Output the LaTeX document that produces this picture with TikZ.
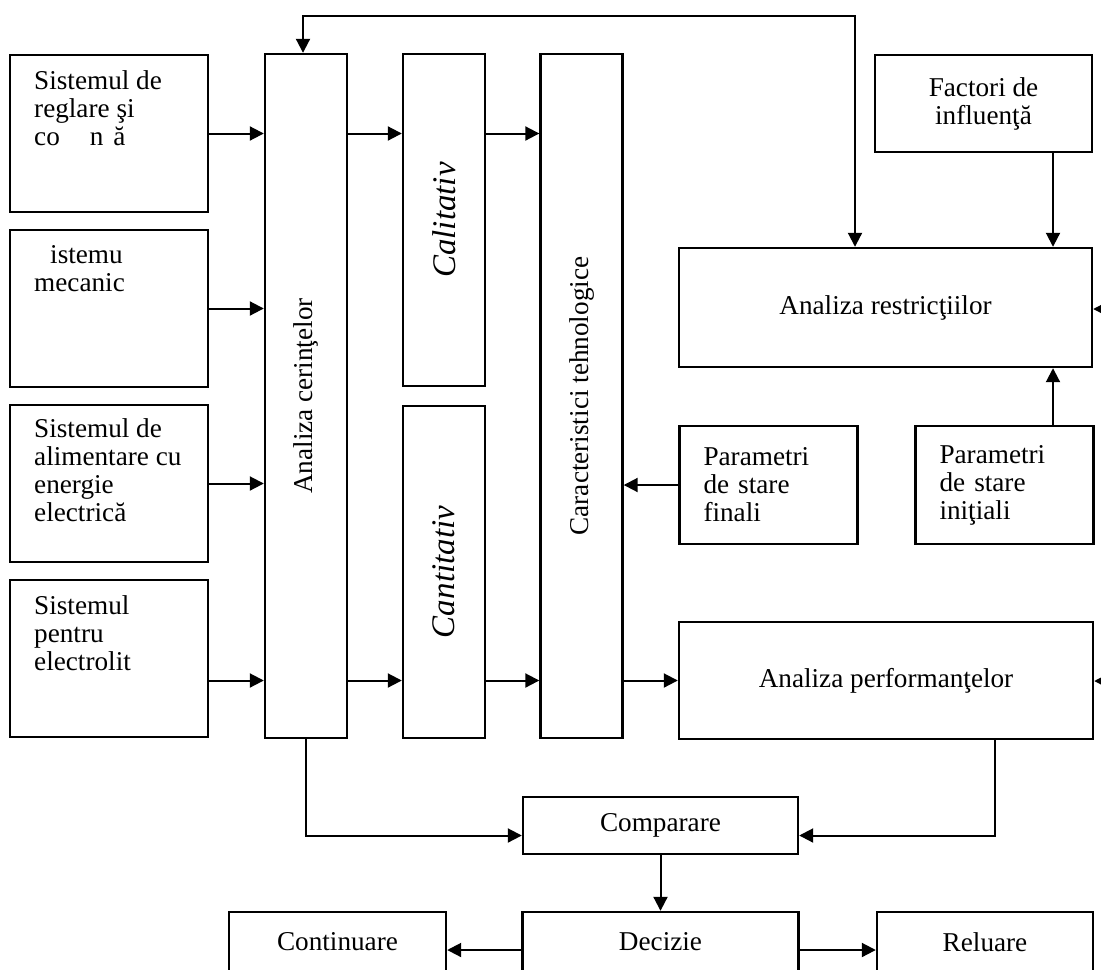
\documentclass[tikz,border=0pt]{standalone}
\usepackage{fontspec}
\setmainfont{Liberation Serif}
\usepackage{graphicx}
\usetikzlibrary{arrows.meta,positioning}

\begin{document}
\begin{tikzpicture}[
    x=0.5pt, y=-0.5pt, % pixel grid of the scan
    >={Triangle[length=7pt,width=7pt]},
    blk/.style={draw, line width=1.2pt, inner sep=0pt, font=\fontsize{13.6}{14}\selectfont},
    sysbox/.style={blk, minimum width=99pt, minimum height=78.5pt},
    systxt/.style={anchor=north west, align=left, inner sep=0pt, font=\fontsize{13.6}{14}\selectfont},
    colbox/.style={blk, minimum width=41pt, minimum height=342pt},
    halfbox/.style={blk, minimum width=41pt, minimum height=166pt, font=\fontsize{16.5}{18}\selectfont\itshape},
    parambox/.style={blk, minimum width=89pt, minimum height=59pt, text width=65pt, align=left},
    endbox/.style={blk, minimum width=138pt, minimum height=30pt},
    link/.style={line width=1pt, ->}
]
  \clip (0,0) rectangle (1101,969);
  \fill[white] (0,0) rectangle (1101,969);

  % Input systems (left column)
  \node[sysbox] (sreg) at (109,133.5) {};
  \node[sysbox] (smec) at (109,308.5) {};
  \node[sysbox] (salim) at (109,483.5) {};
  \node[sysbox] (selec) at (109,658.5) {};
  \node[systxt] (sregtxt) at ([shift={(12.5pt,-8pt)}]sreg.north west) {Sistemul de\\reglare şi\\co\hspace*{15pt}n\hspace*{5pt}ă};
  \node[systxt] (smectxt) at ([shift={(12.5pt,-8pt)}]smec.north west) {\hspace*{8pt}istemu\\mecanic};
  \node[systxt] (salimtxt) at ([shift={(12.5pt,-7pt)}]salim.north west) {Sistemul de\\alimentare cu\\energie\\electrică};
  \node[systxt] (selectxt) at ([shift={(12.5pt,-8pt)}]selec.north west) {Sistemul\\pentru\\electrolit};

  % Vertical columns
  \node[colbox] (acer) at (306,396) {\rotatebox{90}{Analiza cerinţelor}};
  \node[halfbox] (calit) at (444,220) {\rotatebox{90}{Calitativ}};
  \node[halfbox] (cantit) at (444,572) {\rotatebox{90}{Cantitativ}};
  \node[colbox] (caract) at (581.5,396) {\rotatebox{90}{Caracteristici tehnologice}};

  % Right side
  \node[blk, minimum width=108.5pt, minimum height=48.5pt, align=center] (factori) at (983.5,103.5) {Factori de\\influenţă};
  \node[blk, minimum width=206.5pt, minimum height=59.5pt] (arestr) at (885.5,307.5) {Analiza restricţiilor};
  \node[parambox] (pfin) at (768.5,485) {Parametri\\de stare\\finali};
  \node[parambox] (pinit) at (1004.5,485) {Parametri\\de stare\\iniţiali};
  \node[blk, minimum width=207pt, minimum height=58.5pt] (aperf) at (886,680.5) {Analiza performanţelor};

  % Bottom
  \node[blk, minimum width=137.5pt, minimum height=28.5pt] (comp) at (660.5,825.5) {Comparare};
  \node[endbox] (decizie) at (660.5,942) {Decizie};
  \node[endbox, minimum width=108.5pt] (cont) at (337.5,942) {Continuare};
  \node[endbox, minimum width=108pt] (reluare) at (985,942) {Reluare};

  % Helper coordinates
  \coordinate (topL) at (303,16);
  \coordinate (topR) at (855,16);
  \coordinate (rcol) at (1053,0);
  \coordinate (pcol) at (995,0);
  \coordinate (rin1) at (1120,309);
  \coordinate (rin2) at (1120,681);

  % Connectors
  \foreach \s in {sreg,smec,salim}
    \draw[link] (\s.east) -- (\s.east -| acer.west);
  \draw[link] (selec.east |- aperf.west) -- (acer.west |- aperf.west);
  \draw[link] (acer.east |- sreg.east) -- (calit.west |- sreg.east);
  \draw[link] (calit.east |- sreg.east) -- (caract.west |- sreg.east);
  \draw[link] (acer.east |- aperf.west) -- (cantit.west |- aperf.west);
  \draw[link] (cantit.east |- aperf.west) -- (caract.west |- aperf.west);
  \draw[link] (caract.east |- aperf.west) -- (aperf.west);
  \draw[link] (pfin.west) -- (pfin.west -| caract.east);
  \draw[link] (rcol |- factori.south) -- (rcol |- arestr.north);
  \draw[link] (rcol |- pinit.north) -- (rcol |- arestr.south);
  \draw[link, <->] (topL |- acer.north) -- (topL) -- (topR) -- (topR |- arestr.north);
  \draw[link] (rin1) -- (rin1 -| arestr.east);
  \draw[link] (rin2) -- (rin2 -| aperf.east);
  \draw[link] (acer.south) |- ([yshift=-5pt]comp.west);
  \draw[link] (pcol |- aperf.south) |- ([yshift=-5pt]comp.east);
  \draw[link] (comp.south) -- (decizie.north);
  \draw[link] ([yshift=-4pt]decizie.west) -- ([yshift=-4pt]cont.east);
  \draw[link] ([yshift=-4pt]decizie.east) -- ([yshift=-4pt]reluare.west);
\end{tikzpicture}
\end{document}
